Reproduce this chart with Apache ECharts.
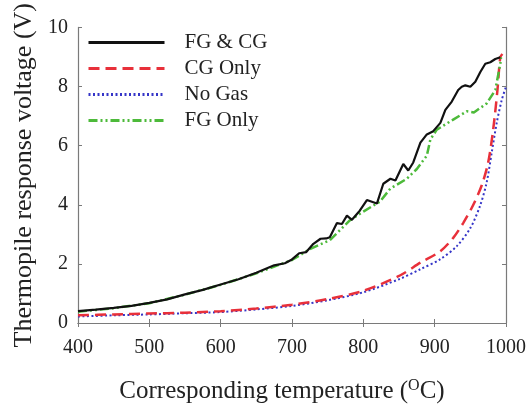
<!DOCTYPE html>
<html lang="en">
<head>
    <meta charset="UTF-8">
    <title>Thermopile response</title>
    <script src="https://cdn.jsdelivr.net/npm/echarts@6/dist/echarts.min.js"></script>
    <style>
        *{margin:0;padding:0;}
        #main{width:529px;height:409px;background:#fff;}
    </style>
</head>
<body>
<div id="main"></div>
<script>
    // [temperature, voltage]
    var fgcg = [[400,0.40],[425,0.45],[450,0.51],[475,0.58],[500,0.68],[525,0.80],[550,0.97],[575,1.12],[600,1.30],[625,1.48],[650,1.70],[675,1.95],[690,2.02],[700,2.15],[710,2.36],[720,2.40],[730,2.68],[740,2.85],[748,2.86],[753,2.90],[763,3.38],[770,3.35],[777,3.63],[784,3.49],[795,3.80],[805,4.16],[812,4.10],[819,4.04],[828,4.71],[838,4.88],[845,4.82],[856,5.38],[863,5.16],[870,5.43],[880,6.10],[889,6.38],[898,6.49],[908,6.77],[915,7.21],[924,7.49],[933,7.88],[938,7.99],[943,8.04],[950,7.99],[957,8.16],[964,8.49],[971,8.77],[978,8.82],[985,8.93],[992,8.99]];
    var cgOnly = [[400,0.26],[450,0.29],[500,0.32],[550,0.35],[600,0.40],[650,0.49],[700,0.62],[750,0.81],[800,1.09],[850,1.59],[880,2.04],[908,2.43],[926,2.88],[940,3.38],[954,3.99],[966,4.66],[975,5.43],[982,6.54],[988,7.88],[992,8.99],[995,9.10]];
    var noGas = [[400,0.22],[450,0.26],[500,0.29],[550,0.33],[600,0.37],[650,0.46],[700,0.58],[750,0.77],[800,1.04],[850,1.48],[880,1.82],[908,2.16],[931,2.60],[950,3.21],[964,3.99],[973,4.77],[980,5.77],[987,6.77],[994,7.54],[1000,7.99]];
    var fgOnly = [[400,0.38],[450,0.50],[500,0.67],[550,0.96],[600,1.29],[650,1.68],[700,2.13],[725,2.50],[753,2.80],[781,3.47],[800,3.77],[823,4.10],[838,4.55],[861,4.88],[875,5.21],[884,5.50],[889,5.66],[894,6.21],[903,6.54],[926,6.88],[945,7.16],[955,7.12],[973,7.43],[985,7.88],[992,8.77],[993,8.99]];
    var xTicks = {min:400, max:1000, step:100};
    var yTicks = {min:0, max:10, step:2};

    var serif = '"Liberation Serif", "DejaVu Serif", serif';
    var frame = '#7a7a7a';

    function frameAxis(extra){
        var a = {
            axisLine:{show:true, lineStyle:{color:frame, width:1.2}},
            axisTick:{show:true, inside:true, length:4, lineStyle:{color:frame}},
            splitLine:{show:false}
        };
        for (var k in extra) a[k] = extra[k];
        return a;
    }

    var chart = echarts.init(document.getElementById('main'));
    chart.setOption({
        backgroundColor:'#fff',
        animation:false,
        grid:{left:78, right:23, top:23, bottom:86},
        legend:{
            orient:'vertical',
            left:87, top:32, padding:0,
            itemWidth:76, itemHeight:14, itemGap:5,
            itemStyle:{opacity:0},
            lineStyle:{width:3},
            textStyle:{fontFamily:serif, fontSize:21, color:'#222', padding:[0,0,0,15]},
            data:['FG & CG','CG Only','No Gas','FG Only']
        },
        xAxis:[
            frameAxis({type:'value', min:xTicks.min, max:xTicks.max, interval:xTicks.step,
                name:'{t|Corresponding temperature (}{s|O}{t|C)}', nameLocation:'middle', nameGap:55,
                nameTextStyle:{padding:[0,20,0,0], rich:{
                    t:{fontFamily:serif, fontSize:25, color:'#222'},
                    s:{fontFamily:serif, fontSize:16, color:'#222', verticalAlign:'top', padding:[0,0,10,0]}
                }},
                axisLabel:{fontFamily:serif, fontSize:20, color:'#222', margin:15, formatter:function(v){return String(v);}}}),
            frameAxis({type:'value', position:'top', min:xTicks.min, max:xTicks.max, interval:xTicks.step,
                axisLabel:{show:false}})
        ],
        yAxis:[
            frameAxis({type:'value', min:yTicks.min, max:yTicks.max, interval:yTicks.step,
                name:'Thermopile response voltage (V)', nameLocation:'middle', nameGap:40,
                nameTextStyle:{fontFamily:serif, fontSize:26, color:'#222'},
                axisLabel:{fontFamily:serif, fontSize:20, color:'#222', margin:10}}),
            frameAxis({type:'value', position:'right', min:yTicks.min, max:yTicks.max, interval:yTicks.step,
                axisLabel:{show:false}})
        ],
        series:[
            {name:'FG & CG', type:'line', data:fgcg, showSymbol:false, symbol:'none', z:4,
                lineStyle:{color:'#111', width:2.2}, itemStyle:{color:'#111'}},
            {name:'CG Only', type:'line', data:cgOnly, showSymbol:false, symbol:'none', smooth:0.3, z:3,
                lineStyle:{color:'#e8303a', width:2.5, type:[11,6]}, itemStyle:{color:'#e8303a'}},
            {name:'No Gas', type:'line', data:noGas, showSymbol:false, symbol:'none', smooth:0.3, z:2,
                lineStyle:{color:'#3535c8', width:2, type:[2,2.5]}, itemStyle:{color:'#3535c8'}},
            {name:'FG Only', type:'line', data:fgOnly, showSymbol:false, symbol:'none', z:3,
                lineStyle:{color:'#4dba3a', width:2.5, type:[9,3,2,3,2,3]}, itemStyle:{color:'#4dba3a'}}
        ]
    });
</script>
</body>
</html>
